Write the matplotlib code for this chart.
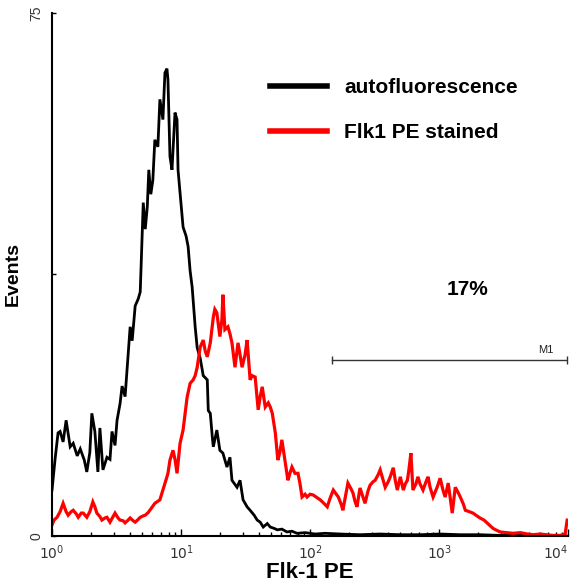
import numpy as np
import matplotlib
matplotlib.use("Agg")
import matplotlib.pyplot as plt
from matplotlib.lines import Line2D

plt.rcParams['font.family'] = ['Liberation Sans', 'DejaVu Sans']

# FL2 log channels (1024 channels over 4 decades) and event counts
black_ch = [0, 6, 12, 16, 22, 28, 36, 42, 50, 56,
            64, 69, 75, 79, 85, 91, 95, 101, 109, 115,
            119, 125, 129, 135, 139, 145, 151, 155, 159, 165,
            171, 175, 181, 185, 189, 192, 196, 200, 204, 210,
            214, 220, 224, 228, 230, 234, 238, 244, 248, 250,
            254, 260, 266, 270, 274, 278, 284, 288, 294, 300,
            308, 310, 314, 318, 320, 327, 333, 339, 347, 353,
            357, 367, 373, 379, 387, 393, 401, 407, 413, 419,
            427, 433, 441, 447, 456, 466, 476, 486, 502, 522,
            542, 572, 611, 651, 691, 730, 770, 810, 849, 889,
            929, 968, 1024]
black_ev = [6.6, 11, 14.8, 15, 13.5, 16.6, 12.8, 13.3, 11.5, 12.5,
            10.9, 9.2, 12, 17.6, 15, 9.2, 15.5, 9.5, 11.3, 11,
            15, 13, 16.6, 19, 21.5, 20, 26, 30, 28, 33,
            34, 35, 47.8, 44, 47.2, 52.5, 49, 51, 56.8, 55.8,
            62.6, 59.7, 66.4, 67, 65.4, 54.4, 52.5, 60.7, 59.7, 52.5,
            49.2, 44.3, 43, 41.5, 38, 35.7, 30, 27, 25.5, 23,
            22.4, 18, 17.6, 14.2, 12.8, 15.2, 12.3, 11.9, 9.9, 11.3,
            8, 7, 8, 5.2, 4.2, 3.7, 3, 2.3, 2, 1.3,
            1.8, 1.3, 1.1, 0.9, 1.0, 0.6, 0.7, 0.4, 0.5, 0.3,
            0.4, 0.3, 0.2, 0.3, 0.2, 0.2, 0.3, 0.2, 0.2, 0.1,
            0.1, 0.1, 0.0]

red_ch = [0, 4, 10, 16, 22, 28, 32, 38, 42, 48,
          52, 58, 62, 69, 75, 81, 85, 89, 95, 99,
          105, 109, 115, 121, 125, 131, 135, 141, 145, 151,
          155, 161, 165, 171, 175, 181, 185, 191, 194, 200,
          204, 210, 214, 220, 224, 228, 230, 234, 240, 244,
          248, 254, 260, 264, 268, 274, 280, 284, 288, 294,
          300, 304, 308, 314, 320, 323, 327, 333, 337, 339,
          343, 349, 353, 357, 363, 369, 373, 377, 383, 387,
          393, 397, 403, 409, 413, 417, 423, 429, 433, 437,
          443, 448, 452, 456, 462, 468, 472, 476, 482, 488,
          492, 496, 502, 506, 512, 518, 524, 532, 538, 546,
          552, 558, 564, 568, 574, 577, 583, 587, 593, 597,
          601, 605, 611, 617, 621, 627, 631, 637, 641, 647,
          651, 657, 661, 667, 671, 677, 681, 685, 691, 697,
          701, 705, 708, 712, 716, 722, 726, 730, 736, 742,
          746, 750, 756, 764, 770, 776, 780, 786, 790, 794,
          800, 806, 810, 816, 820, 828, 835, 843, 849, 857,
          863, 869, 875, 883, 889, 901, 915, 929, 943, 955,
          968, 982, 994, 1008, 1018, 1022, 1024]
red_ev = [1.6, 2.3, 2.7, 3.5, 4.7, 3.5, 3.0, 3.5, 3.7, 3.2,
          2.7, 3.3, 3.3, 2.7, 3.5, 4.9, 4.2, 3.3, 2.8, 2.3,
          2.6, 2.7, 2.0, 2.8, 3.3, 2.6, 2.3, 2.2, 1.9, 2.3,
          2.6, 2.2, 2.0, 2.4, 2.7, 2.9, 3.0, 3.4, 3.7, 4.3,
          4.7, 5.0, 5.2, 6.6, 7.5, 8.5, 9.0, 10.9, 12.3, 11,
          9, 13.3, 15.2, 17.5, 19.9, 21.9, 22.4, 23, 24.2, 27.1,
          28.1, 26.5, 25.7, 27.7, 31.4, 32.5, 32, 28.6, 31, 34.6,
          29.6, 30, 29, 27.7, 24.2, 27.7, 26, 24.2, 26, 28.1,
          22.4, 23, 22.8, 18.1, 20, 21.4, 18.5, 19.1, 18.5, 17.6,
          14.8, 10.9, 12, 13.8, 10.9, 8, 9, 9.9, 9, 9,
          7.5, 5.6, 6.0, 5.6, 6.0, 5.9, 5.6, 5.2, 4.8, 4.2,
          5.5, 6.6, 6.0, 5.6, 4.5, 3.7, 6.0, 7.6, 6.8, 6.2,
          5.0, 4.2, 6.9, 5.6, 4.7, 6.5, 7.3, 7.8, 8.0, 8.8,
          9.5, 8.0, 7.0, 7.8, 8.5, 9.8, 8.0, 6.6, 8.5, 6.6,
          7.5, 8.0, 9.5, 11.9, 6.6, 7.5, 8.5, 7.5, 6.6, 7.8,
          8.5, 7.0, 5.6, 7.0, 8.3, 6.5, 5.6, 7.6, 5.5, 3.3,
          7.0, 6.2, 5.6, 4.6, 3.7, 3.5, 3.3, 2.9, 2.6, 2.3,
          1.9, 1.5, 1.1, 0.8, 0.6, 0.5, 0.4, 0.5, 0.3, 0.2,
          0.3, 0.2, 0.1, 0.1, 0.3, 2.3, 2.3]

labels = ['autofluorescence', 'Flk1 PE stained']
m1_gate = [556, 1022]   # channels
m1_level = 25.3
m1_text = '17%'


def ch2fl(ch):
    return 10 ** (np.asarray(ch) / 256.0)


fig = plt.figure(figsize=(5.78, 5.84), dpi=100)
ax = fig.add_axes([0.090, 0.082, 0.893, 0.896])

ax.plot(ch2fl(black_ch), black_ev, color='black', lw=2.0, solid_joinstyle='miter')
ax.plot(ch2fl(red_ch), red_ev, color='#ff0000', lw=2.3, solid_joinstyle='miter')

ax.set_xscale('log')
ax.set_xlim(1, 1e4)
ax.set_ylim(0, 75)

for s in ['top', 'right']:
    ax.spines[s].set_visible(False)
for s in ['left', 'bottom']:
    ax.spines[s].set_linewidth(1.5)

ax.set_xticks([1, 10, 100, 1000, 10000])
ax.set_xticklabels(['$10^0$', '$10^1$', '$10^2$', '$10^3$', '$10^4$'])
ax.tick_params(axis='x', which='major', direction='in', length=5, width=1,
               labelsize=10, labelcolor='#333333', pad=5)
ax.tick_params(axis='x', which='minor', direction='in', length=3, width=1)
# last label sits at the right edge of the figure, keep it inside
ax.get_xticklabels()[-1].set_horizontalalignment('right')
ax.set_yticks([0, 37.5, 75])
ax.set_yticklabels(['0', '', '75'], rotation=90, va='center')
ax.tick_params(axis='y', direction='in', length=3, width=1,
               labelsize=10, labelcolor='#333333', pad=6)

ax.set_xlabel('Flk-1 PE', fontsize=16, fontweight='bold', labelpad=0)
ax.set_ylabel('Events', fontsize=14, fontweight='bold', labelpad=6)

# M1 gate marker
g0, g1 = ch2fl(m1_gate)
ax.plot([g0, g1], [m1_level, m1_level], color='#333333', lw=1)
ax.plot([g0, g1], [m1_level, m1_level], ls='none', marker='|', ms=6,
        mew=1, color='#333333')
ax.text(g1 * 0.78, m1_level + 0.6, 'M1', fontsize=8, ha='right', va='bottom',
        color='#222222')
ax.text(1650, 35.3, m1_text, fontsize=15, fontweight='bold', ha='center',
        va='center')

handles = [Line2D([], [], color='black', lw=4),
           Line2D([], [], color='#ff0000', lw=4)]
ax.legend(handles, labels, loc='upper left', bbox_to_anchor=(0.403, 0.895),
          frameon=False, handlelength=2.7, handletextpad=0.85,
          labelspacing=1.25, borderpad=0,
          prop={'size': 15, 'weight': 'bold'})

fig.savefig('out.png', dpi=100, facecolor='white')
